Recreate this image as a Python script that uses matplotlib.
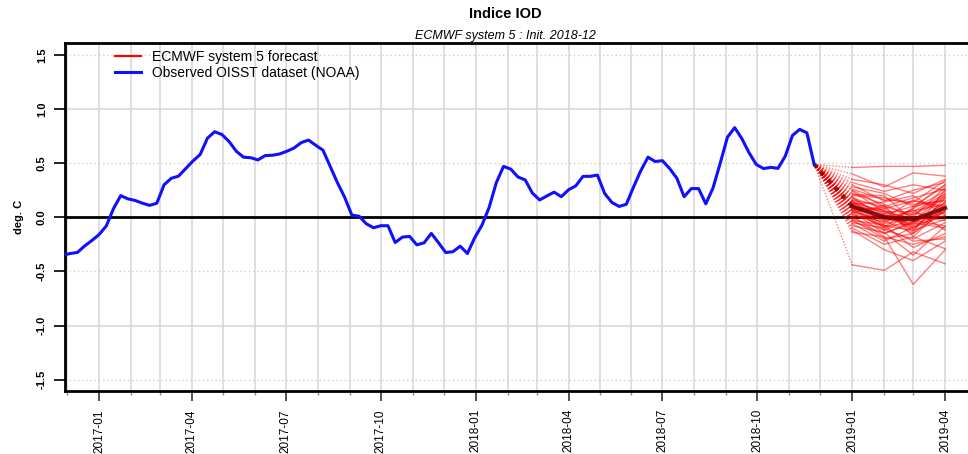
import numpy as np
import pandas as pd
import matplotlib
matplotlib.use("Agg")
import matplotlib.pyplot as plt
import matplotlib.dates as mdates
from matplotlib.lines import Line2D

plt.rcParams['font.family'] = ['Liberation Sans', 'DejaVu Sans']

# Weekly observed IOD index (OISST), deg C
obs_end = "2018-11-25"
obs_values = [
    -0.35, -0.335, -0.325, -0.265, -0.215, -0.16, -0.08, 0.08, 0.20, 0.17,
    0.155, 0.13, 0.11, 0.13, 0.30, 0.36, 0.38, 0.45, 0.52, 0.58,
    0.73, 0.79, 0.765, 0.70, 0.61, 0.555, 0.55, 0.53, 0.57, 0.573,
    0.585, 0.61, 0.64, 0.69, 0.713, 0.665, 0.62, 0.47, 0.32, 0.185,
    0.02, 0.01, -0.06, -0.097, -0.078, -0.078, -0.233, -0.183, -0.177, -0.255,
    -0.236, -0.149, -0.235, -0.326, -0.318, -0.267, -0.335, -0.19, -0.075, 0.09,
    0.32, 0.47, 0.445, 0.372, 0.345, 0.223, 0.16, 0.197, 0.232, 0.19,
    0.254, 0.29, 0.378, 0.378, 0.39, 0.22, 0.137, 0.10, 0.12, 0.28,
    0.43, 0.555, 0.515, 0.523, 0.45, 0.36, 0.19, 0.265, 0.265, 0.124,
    0.27, 0.50, 0.74, 0.828, 0.726, 0.595, 0.487, 0.45, 0.461, 0.452,
    0.564, 0.756, 0.812, 0.78, 0.49,
]

# ECMWF SEAS5 forecast members (Jan, Feb, Mar, Apr 2019)
fc_months = ["2019-01-01", "2019-02-01", "2019-03-01", "2019-04-01"]
fc_members = [
    [0.46, 0.47, 0.47, 0.48], [0.40, 0.28, 0.41, 0.38], [0.35, 0.30, 0.22, 0.35],
    [0.30, 0.15, 0.25, 0.32], [0.28, 0.22, 0.10, 0.30], [0.25, 0.10, 0.18, 0.26],
    [0.24, 0.05, 0.05, 0.22], [0.22, 0.12, 0.00, 0.28], [0.20, 0.18, 0.12, 0.15],
    [0.19, -0.02, -0.05, 0.20], [0.18, 0.08, 0.15, 0.10], [0.17, 0.02, -0.10, 0.05],
    [0.16, 0.10, 0.02, 0.18], [0.15, -0.05, 0.08, 0.24], [0.15, 0.04, -0.12, -0.02],
    [0.14, 0.00, 0.06, 0.12], [0.13, 0.06, -0.02, 0.08], [0.12, -0.08, -0.06, 0.14],
    [0.12, 0.14, 0.20, 0.02], [0.11, -0.03, -0.15, 0.10], [0.10, 0.05, -0.03, -0.08],
    [0.10, -0.10, 0.03, 0.20], [0.09, 0.01, -0.08, 0.06], [0.08, -0.12, -0.20, -0.05],
    [0.08, 0.03, 0.10, 0.16], [0.07, -0.06, -0.01, 0.04], [0.06, 0.09, -0.10, 0.12],
    [0.05, -0.15, -0.05, -0.10], [0.05, -0.02, 0.04, 0.00], [0.04, 0.11, -0.18, 0.09],
    [0.03, -0.08, -0.12, 0.18], [0.02, -0.04, 0.07, -0.12], [0.01, -0.18, -0.25, -0.18],
    [0.00, 0.02, -0.07, 0.14], [-0.01, -0.12, 0.00, -0.03], [-0.02, -0.20, -0.15, 0.06],
    [-0.03, -0.07, -0.28, -0.15], [-0.04, -0.15, -0.04, 0.10], [-0.05, -0.10, -0.22, -0.20],
    [-0.06, -0.22, -0.09, 0.02], [-0.08, -0.14, -0.35, -0.08], [-0.10, -0.25, -0.18, -0.29],
    [-0.12, -0.30, -0.40, -0.22], [-0.14, -0.18, -0.62, -0.30], [-0.44, -0.49, -0.32, -0.43],
    [0.32, 0.24, 0.30, 0.25], [0.26, 0.16, 0.14, 0.34], [0.21, 0.20, -0.03, 0.22],
    [0.13, -0.01, 0.16, 0.08], [0.09, 0.07, -0.14, 0.26], [0.06, -0.09, 0.09, 0.30],
]

y_ticks = [-1.5, -1.0, -0.5, 0.0, 0.5, 1.0, 1.5]

obs_dates = pd.date_range(end=obs_end, periods=len(obs_values), freq="7D")
fc_dates = pd.to_datetime(fc_months)
members = np.array(fc_members)
ens_mean = members.mean(axis=0)
start_date = obs_dates[-1]
start_val = obs_values[-1]

fig = plt.figure(figsize=(9.68, 4.54), dpi=100)
# the plotting region runs slightly past the right edge of the canvas
ax = fig.add_axes([65 / 968, 1 - 391 / 454, 907 / 968, 348 / 454])

x0 = pd.Timestamp("2016-11-29")
x1 = pd.Timestamp("2019-04-27")
ax.set_xlim(x0, x1)
ax.set_ylim(-1.605, 1.61)

# background grid
for m in pd.date_range("2016-12-01", "2019-04-01", freq="MS"):
    ax.axvline(m, color="#d6d6d6", lw=1.1, zorder=0)
for yv in (-1.0, 1.0):
    ax.axhline(yv, color="#d6d6d6", lw=1.1, zorder=0)
for yv in (-1.5, -0.5, 0.5, 1.5):
    ax.axhline(yv, color="#cfcfcf", lw=1.0, ls=(0, (1, 2)), zorder=0)
ax.axhline(0, color="black", lw=2.0, zorder=1)

# forecast members
dot = (0, (1, 1.2))
for m in members:
    ax.plot([start_date, fc_dates[0]], [start_val, m[0]], color="red",
            lw=1.0, ls=dot, alpha=0.5, zorder=2)
    ax.plot(fc_dates, m, color="red", lw=1.0, alpha=0.5, zorder=2)

# ensemble mean
ax.plot([start_date, fc_dates[0]], [start_val, ens_mean[0]], color="#6e0000",
        lw=3.0, ls=(0, (1, 1.5)), alpha=0.8, zorder=3)
ax.plot(fc_dates, ens_mean, color="#6e0000", lw=3.0, alpha=0.8, zorder=3)

# observations
ax.plot(obs_dates, obs_values, color="#1010ff", lw=2.2, zorder=4,
        solid_joinstyle="round")

for s in ax.spines.values():
    s.set_linewidth(2.0)
    s.set_color("black")

ax.xaxis.set_major_locator(mdates.MonthLocator(bymonth=[1, 4, 7, 10]))
ax.xaxis.set_major_formatter(mdates.DateFormatter("%Y-%m"))
ax.xaxis.set_minor_locator(mdates.MonthLocator())
ax.tick_params(axis="x", which="major", length=7, width=1.2, pad=6,
               labelsize=8.5, labelrotation=90, color="#333333")
ax.tick_params(axis="x", which="minor", length=3, width=1.0, color="#888888")

ax.set_yticks(y_ticks)
ax.set_yticklabels([f"{v:.1f}" for v in y_ticks], rotation=90, va="center",
                   fontweight="bold")
ax.tick_params(axis="y", which="major", length=8, width=1.2, pad=5,
               labelsize=8)

ax.set_ylabel("deg. C", fontsize=8, fontweight="bold")
ax.yaxis.set_label_coords(-0.045, 0.5)

fig.text(0.5217, 1 - 14 / 454, "Indice IOD", ha="center", va="center",
         fontsize=10.5, fontweight="bold")
fig.text(0.5217, 1 - 36 / 454, "ECMWF system 5 : Init. 2018-12", ha="center",
         va="center", fontsize=9, style="italic")

handles = [Line2D([], [], color="red", lw=1.6),
           Line2D([], [], color="#1010ff", lw=2.2)]
ax.legend(handles, ["ECMWF system 5 forecast", "Observed OISST dataset (NOAA)"],
          loc="upper left", bbox_to_anchor=(0.047, 1.0), frameon=False,
          fontsize=10, handlelength=1.9, handletextpad=0.8, borderaxespad=0.1,
          labelspacing=0.15)

fig.savefig("out.png", dpi=100)
